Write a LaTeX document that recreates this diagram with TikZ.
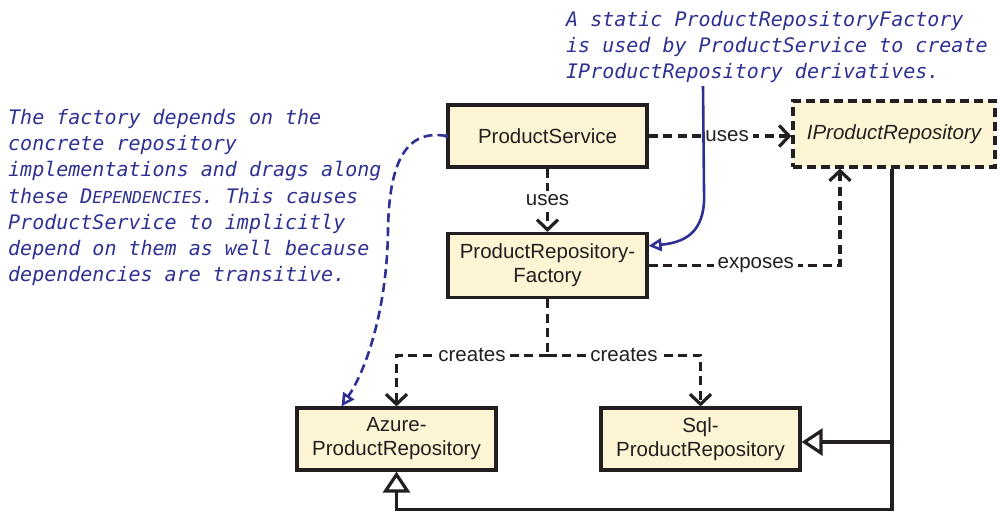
\documentclass[tikz,border=0pt]{standalone}
\usepackage{fontspec}
\setmainfont{Liberation Sans}
\newfontfamily\notefont{DejaVu Sans Mono}
\usetikzlibrary{arrows.meta,calc}
\definecolor{cream}{HTML}{FDF5D3}
\definecolor{noteblue}{HTML}{2E3192}
\definecolor{ink}{HTML}{231F20}
\tikzset{
  classbox/.style={draw=ink, line width=3.2pt, fill=cream, minimum width=199pt,
    minimum height=62pt, align=center, inner sep=2pt,
    font=\fontsize{20.5}{24}\selectfont, text=ink},
  ifacebox/.style={classbox, dash pattern=on 9pt off 5pt,
    minimum width=202pt, minimum height=66pt, font=\fontsize{20.5}{24}\selectfont\itshape},
  depline/.style={draw=ink, line width=3.2pt, dash pattern=on 9pt off 5.5pt},
  dep/.style={depline, -{Straight Barb[length=10pt,width=21pt]}},
  impl/.style={draw=ink, line width=3.2pt, -{Triangle[open,length=21pt,width=27pt,fill=white]}},
  lbl/.style={fill=white, inner sep=4pt, text=ink, font=\fontsize{20.5}{24}\selectfont},
  note/.style={text=noteblue, align=left, inner sep=0pt,
    font=\notefont\itshape\fontsize{20}{26.2}\selectfont},
  notelink/.style={draw=noteblue, line width=2.6pt, -{Triangle[open,length=13pt,width=13pt]}},
}
\newcommand{\smallcapsfake}[1]{{\fontsize{16.5}{26.2}\selectfont #1}}
\begin{document}
\begin{tikzpicture}[x=1pt,y=-1pt]
\useasboundingbox (0,0) rectangle (998,512);

% classes
\node[classbox] (ps) at (547.5,136) {ProductService};
\node[ifacebox] (ipr) at (894,134) {IProductRepository};
\node[classbox, minimum height=64pt] (fac) at (547.5,265.5) {ProductRepository-\\Factory};
\node[classbox] (az) at (396.5,439) {Azure-\\ProductRepository};
\node[classbox] (sql) at (700.5,439) {Sql-\\ProductRepository};

% dependencies
\draw[dep] (ps.east) -- node[lbl, pos=0.55] {uses} (ps.east -| ipr.west);
\draw[dep] (ps.south) -- node[lbl] {uses} (fac.north);
\coordinate (expose) at ([xshift=-54pt]ipr.south);
\draw[dep] (fac.east) -| node[lbl, pos=0.28] {exposes} (expose);
\draw[depline] (fac.south) -- ++(0,56) coordinate (split);
\draw[dep] (split) -| node[lbl, pos=0.25] {creates} (az.north);
\draw[dep] (split) -| node[lbl, pos=0.25] {creates} (sql.north);

% implementations
\coordinate (rail) at ([xshift=-2pt]ipr.south);
\coordinate (floor) at ($(az.south)+(0,38)$);
\draw[impl] (rail) |- ([yshift=-3pt]sql.east);
\draw[impl] (rail) |- (floor) -- (az.south);

% notes
\node[note, anchor=north west] (topnote) at (566,11)
  {A static ProductRepositoryFactory\\is used by ProductService to create\\IProductRepository derivatives.};
\node[note, anchor=north west] (leftnote) at (8,109)
  {The factory depends on the\\concrete repository\\implementations and drags along\\these D\smallcapsfake{EPENDENCIES}. This causes\\ProductService to implicitly\\depend on them as well because\\dependencies are transitive.};

\coordinate (pin) at (703,86);
\draw[notelink] (pin) -- (704,190) .. controls (706,228) and (690,242) .. ([yshift=-14pt]fac.north east);
\fill[noteblue] (ps.west) circle (2pt);
\draw[notelink, dash pattern=on 9pt off 5pt] (ps.west) .. controls (402,128) and (389,170) .. (388,230)
  .. controls (387,310) and (366,370) .. ([xshift=-55pt]az.north);
\end{tikzpicture}
\end{document}
